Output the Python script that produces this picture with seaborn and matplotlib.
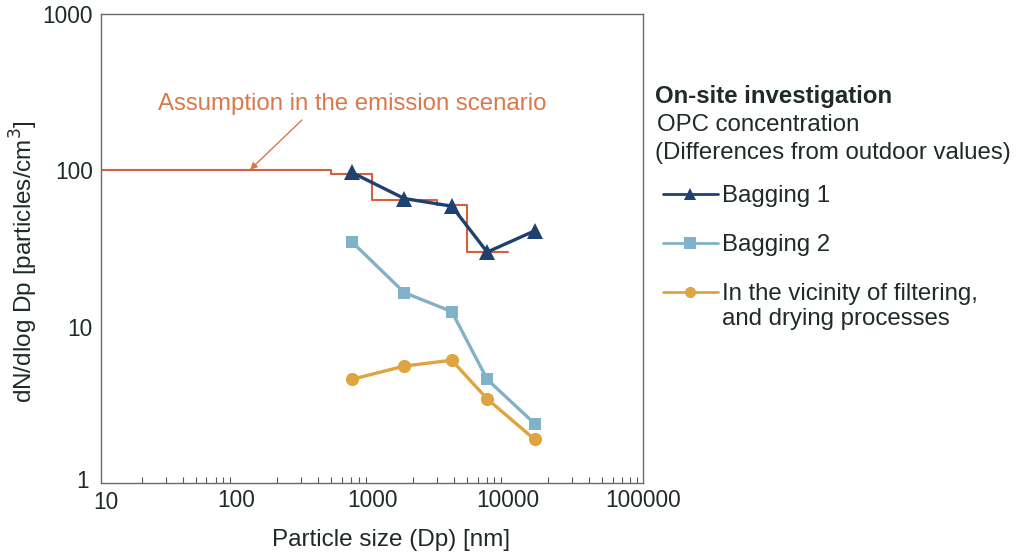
import numpy as np
import pandas as pd
import matplotlib
matplotlib.use("Agg")
import matplotlib.pyplot as plt
import matplotlib.transforms as mtransforms
import seaborn as sns
from matplotlib.ticker import LogLocator, FixedLocator, FixedFormatter, NullLocator

# ---- data ----
particle_size = [707, 1732, 3873, 7071, 15811]
bagging1 = [97, 66, 59, 30, 41]
bagging2 = [35, 16.5, 12.5, 4.6, 2.4]
filtering = [4.6, 5.6, 6.1, 3.45, 1.9]

scenario_edges = [10, 500, 1000, 3000, 5000, 10000]
scenario_levels = [100, 95, 65, 60, 30, 30]

series_names = ["Bagging 1", "Bagging 2", "In the vicinity of filtering,"]
x_ticks = [10, 100, 1000, 10000, 100000]
x_tick_labels = ["10", "100", "1000", "10000", "100000"]
y_ticks = [1, 10, 100, 1000]
y_tick_labels = ["1", "10", "100", "1000"]

# ---- style ----
sns.set_theme(style="white")
plt.rcParams['font.family'] = ['Liberation Sans', 'DejaVu Sans']
text_color = "#1f2b24"
plt.rcParams['text.color'] = text_color
plt.rcParams['axes.labelcolor'] = text_color
plt.rcParams['xtick.color'] = "#555555"
plt.rcParams['ytick.color'] = "#555555"
plt.rcParams['xtick.labelcolor'] = text_color
plt.rcParams['ytick.labelcolor'] = text_color

fig = plt.figure(figsize=(10.16, 5.52), dpi=100)
ax = fig.add_axes([0.0994, 0.125, 0.5336, 0.8496])

colors = {"Bagging 1": "#1f416f",
          "Bagging 2": "#82b2c9",
          series_names[2]: "#dea43e"}
markers = {"Bagging 1": "^", "Bagging 2": "s", series_names[2]: "o"}
msizes = {"Bagging 1": 11, "Bagging 2": 9, series_names[2]: 9.5}

# emission scenario step line
scen = pd.DataFrame({"x": scenario_edges, "y": scenario_levels})
sns.lineplot(data=scen, x="x", y="y", ax=ax, drawstyle="steps-post",
             color="#d6603c", linewidth=1.5, sort=False, legend=False)

for name, vals in zip(series_names, [bagging1, bagging2, filtering]):
    df = pd.DataFrame({"x": particle_size, "y": vals})
    sns.lineplot(data=df, x="x", y="y", ax=ax, color=colors[name],
                 marker=markers[name], markersize=msizes[name],
                 markeredgewidth=0, linewidth=2.4, label=name, sort=False)

ax.set_xscale("log")
ax.set_yscale("log")
ax.set_xlim(10, 100000)
ax.set_ylim(1, 1000)

ax.xaxis.set_major_locator(FixedLocator(x_ticks))
ax.xaxis.set_major_formatter(FixedFormatter(x_tick_labels))
ax.xaxis.set_minor_locator(LogLocator(base=10, subs=np.arange(2, 10)))
ax.yaxis.set_major_locator(FixedLocator(y_ticks))
ax.yaxis.set_major_formatter(FixedFormatter(y_tick_labels))
ax.yaxis.set_minor_locator(NullLocator())

ax.tick_params(axis="x", which="major", direction="in", length=5, width=0.8,
               labelsize=16.3, pad=4)
ax.tick_params(axis="x", which="minor", direction="in", length=4, width=0.8,
               bottom=True)
ax.tick_params(axis="y", which="major", direction="in", length=5, width=0.8,
               labelsize=16.3, pad=6)

for sp in ax.spines.values():
    sp.set_color("#6a6a6a")
    sp.set_linewidth(1.0)

ax.set_xlabel("Particle size (Dp) [nm]", fontsize=17.5)
ax.set_ylabel("dN/dlog Dp [particles/cm$^3$]", fontsize=17.5)
ax.xaxis.set_label_coords(0.535, -0.098)
ax.yaxis.set_label_coords(-0.112, 0.472)

# annotation
ann_color = "#d9784a"
ax.text(711, 265, "Assumption in the emission scenario", ha="center",
        va="center", fontsize=17.3, color=ann_color)
ax.annotate("", xy=(126, 101), xytext=(304, 210), textcoords="data",
            arrowprops=dict(arrowstyle="-|>", color=ann_color, lw=1.0,
                            mutation_scale=10, shrinkA=0, shrinkB=0))

# legend header texts
fig.text(0.645, 0.826, "On-site investigation", fontsize=17.3,
         fontweight="bold", va="center", ha="left")
fig.text(0.647, 0.773, "OPC concentration", fontsize=17.3, va="center", ha="left")
fig.text(0.645, 0.722, "(Differences from outdoor values)", fontsize=17.3,
         va="center", ha="left")

leg = ax.legend(loc="upper left", bbox_to_anchor=(0.653, 0.665),
                bbox_transform=fig.transFigure, frameon=False,
                fontsize=17.3, handlelength=2.25, handletextpad=0.17,
                labelspacing=1.13, borderaxespad=0, borderpad=0)
for h in leg.legend_handles:
    h.set_linewidth(2.0)
    h.set_markersize(8)

# second line of the third legend label
fig.text(0.7105, 0.423, "and drying processes", fontsize=17.3,
         va="center", ha="left")

# nudge the corner tick labels apart, as in the original
fig.canvas.draw()
ylab0 = ax.yaxis.get_major_ticks()[0].label1
ylab0.set_transform(ylab0.get_transform() +
                    mtransforms.ScaledTranslation(-4 / 100, 4 / 100, fig.dpi_scale_trans))
xlab0 = ax.xaxis.get_major_ticks()[0].label1
xlab0.set_transform(xlab0.get_transform() +
                    mtransforms.ScaledTranslation(5 / 100, -2 / 100, fig.dpi_scale_trans))

fig.savefig("out.png", dpi=100, facecolor="white")
